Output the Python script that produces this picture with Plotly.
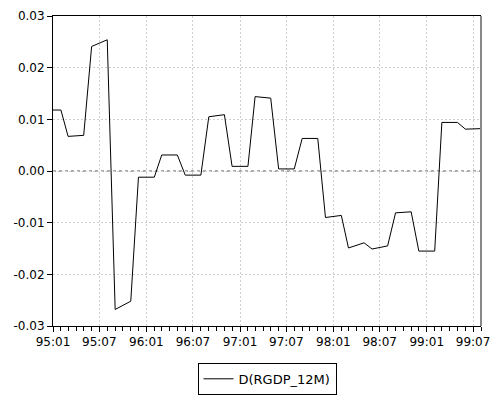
import plotly.graph_objects as go
import pandas as pd

months = pd.date_range("1995-01-01", "1999-08-01", freq="MS")

d_rgdp_12m = [
    0.0118, 0.0118, 0.0067, 0.0068, 0.0069, 0.0241, 0.0247, 0.0254,
    -0.0268, -0.0260, -0.0252, -0.0012, -0.0012, -0.0012, 0.0031, 0.0031,
    0.0031, -0.0008, -0.0008, -0.0008, 0.0105, 0.0107, 0.0109, 0.0009,
    0.0009, 0.0009, 0.0144, 0.0143, 0.0141, 0.0004, 0.0004, 0.0004,
    0.0063, 0.0063, 0.0063, -0.0090, -0.0088, -0.0086, -0.0149, -0.0144,
    -0.0139, -0.0151, -0.0148, -0.0145, -0.0081, -0.0080, -0.0079, -0.0155,
    -0.0155, -0.0155, 0.0094, 0.0094, 0.0094, 0.0081, 0.0081, 0.0082,
]

x_tick_vals = ["1995-01-01", "1995-07-01", "1996-01-01", "1996-07-01", "1997-01-01",
               "1997-07-01", "1998-01-01", "1998-07-01", "1999-01-01", "1999-07-01"]
x_tick_text = ["95:01", "95:07", "96:01", "96:07", "97:01",
               "97:07", "98:01", "98:07", "99:01", "99:07"]
y_tick_vals = [-0.03, -0.02, -0.01, 0.0, 0.01, 0.02, 0.03]
y_tick_text = ["-0.03", "-0.02", "-0.01", "0.00", "0.01", "0.02", "0.03"]

fig = go.Figure()
fig.add_trace(go.Scatter(
    x=months, y=d_rgdp_12m, mode="lines", name="D(RGDP_12M)",
    line=dict(color="black", width=1),
))

fig.update_layout(
    width=499, height=397,
    margin=dict(l=53, r=18, t=16, b=71, autoexpand=False),
    plot_bgcolor="white", paper_bgcolor="white",
    font=dict(family="DejaVu Sans", size=12, color="black"),
    showlegend=True,
    legend=dict(
        orientation="h", x=0.5, xanchor="center",
        yref="container", y=0.086, yanchor="top",
        bordercolor="black", borderwidth=1, font=dict(size=13),
    ),
)
fig.update_xaxes(
    type="date", range=["1995-01-01", "1999-08-01"],
    tickvals=x_tick_vals, ticktext=x_tick_text,
    showgrid=True, gridcolor="#d0d0d0", griddash="2px,2px", gridwidth=1,
    showline=True, linecolor="black", linewidth=1, mirror=True,
    ticks="outside", ticklen=5, tickcolor="black",
    minor=dict(ticks="outside", dtick="M1", tick0="1995-01-01", ticklen=4,
               tickcolor="black", showgrid=False),
    zeroline=False, automargin=False,
)
fig.update_yaxes(
    range=[-0.03, 0.03], tickvals=y_tick_vals, ticktext=y_tick_text,
    showgrid=True, gridcolor="#d0d0d0", griddash="2px,2px", gridwidth=1,
    showline=True, linecolor="black", linewidth=1,
    ticks="outside", ticklen=5, tickcolor="black",
    zeroline=False, automargin=False,
)
fig.add_shape(type="line", xref="paper", yref="y", x0=0, x1=1, y0=0, y1=0,
              line=dict(color="#555555", width=1, dash="dot"), layer="below")
fig.add_shape(type="line", xref="paper", yref="paper", x0=1, x1=1, y0=0, y1=1,
              line=dict(color="#888888", width=2))

fig.write_html("out.html", config={"displayModeBar": False},
               post_script="document.body.style.margin='0px';document.body.style.overflow='hidden';")
